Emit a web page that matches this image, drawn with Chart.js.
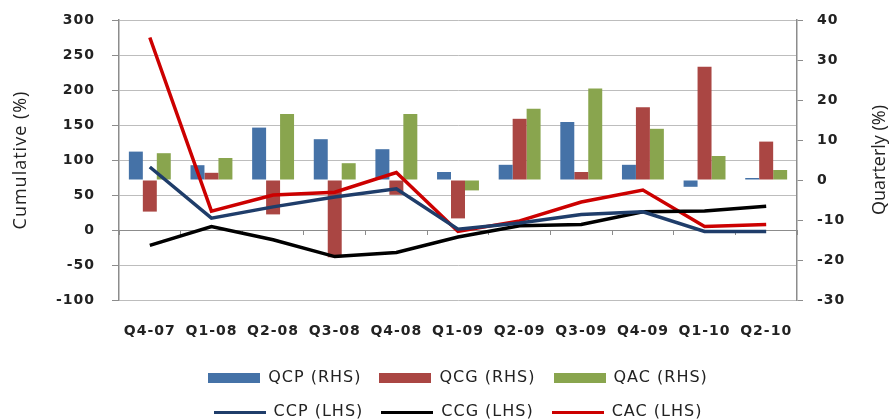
<!DOCTYPE html>
<html>
<head>
<meta charset="utf-8">
<script src="https://cdn.jsdelivr.net/npm/chart.js@4"></script>
<style>
html,body{margin:0;padding:0;background:#fff;overflow:hidden;}
#wrap{position:relative;width:895px;height:430px;}
</style>
</head>
<body>
<div id="wrap"><canvas id="c"></canvas></div>
<script>
const categories = ['Q4-07','Q1-08','Q2-08','Q3-08','Q4-08','Q1-09','Q2-09','Q3-09','Q4-09','Q1-10','Q2-10'];
// Quarterly (right axis)
const QCP = [7.1, 3.7, 13.1, 10.2, 7.7, 2.0, 3.8, 14.5, 3.8, -1.7, 0.5];
const QCG = [-7.9, 1.8, -8.6, -19.3, -3.7, -9.6, 15.3, 2.0, 18.2, 28.3, 9.6];
const QAC = [6.7, 5.5, 16.5, 4.2, 16.5, -2.6, 17.8, 22.9, 12.8, 6.0, 2.5];
// Cumulative (left axis)
const CCP = [90, 17, 33, 47, 59, 1, 10, 22, 26, -2, -2];
const CCG = [-22, 5, -14, -38, -32, -10, 6, 8, 26, 27, 34];
const CAC = [275, 27, 50, 54, 82, -2, 13, 40, 57, 5, 8];
const leftTicks = {min: -100, max: 300, step: 50};
const rightTicks = {min: -30, max: 40, step: 10};

const FONT = 'DejaVu Sans';

function swatch(color, w, h){
  const c = document.createElement('canvas');
  c.width = w; c.height = h;
  const g = c.getContext('2d');
  g.fillStyle = color;
  g.fillRect(0, 0, w, h);
  return c;
}

const helper = {
  id: 'helper',
  beforeLayout(chart){ chart.ctx.letterSpacing = '1px'; },
  beforeDraw(chart){ chart.ctx.letterSpacing = '1px'; },
  afterDraw(chart){
    const ctx = chart.ctx;
    ctx.save();
    ctx.letterSpacing = '0px';
    ctx.translate(880, 160);
    ctx.rotate(-Math.PI/2);
    ctx.font = '18px "Open Sans"';
    ctx.fillStyle = '#222';
    ctx.textAlign = 'center';
    ctx.textBaseline = 'middle';
    ctx.fillText('Quarterly (%)', 0, 0);
    ctx.restore();
  }
};

new Chart(document.getElementById('c'), {
  data: {
    labels: categories,
    datasets: [
      {type:'bar', label:'QCP (RHS)', data:QCP, backgroundColor:'#4572A7', yAxisID:'y1', order:2},
      {type:'bar', label:'QCG (RHS)', data:QCG, backgroundColor:'#AA4643', yAxisID:'y1', order:2},
      {type:'bar', label:'QAC (RHS)', data:QAC, backgroundColor:'#89A54E', yAxisID:'y1', order:2},
      {type:'line', label:'CCP (LHS)', data:CCP, borderColor:'#1F3D6A', backgroundColor:'#1F3D6A', borderWidth:3.5, pointRadius:0, yAxisID:'y', order:1, tension:0},
      {type:'line', label:'CCG (LHS)', data:CCG, borderColor:'#000000', backgroundColor:'#000000', borderWidth:3.5, pointRadius:0, yAxisID:'y', order:1, tension:0},
      {type:'line', label:'CAC (LHS)', data:CAC, borderColor:'#CC0000', backgroundColor:'#CC0000', borderWidth:3.5, pointRadius:0, yAxisID:'y', order:1, tension:0}
    ]
  },
  options: {
    responsive: true,
    maintainAspectRatio: false,
    animation: false,
    datasets: { bar: { categoryPercentage: 0.68, barPercentage: 1.0 } },
    layout: { padding: { top: 20, left: 0, right: 0, bottom: 0 } },
    plugins: {
      tooltip: { enabled: false },
      legend: {
        position: 'bottom',
        fullSize: false,
        labels: {
          font: { family: FONT, size: 16 },
          color: '#222',
          usePointStyle: true,
          pointStyleWidth: 52,
          boxHeight: 16,
          padding: 18,
          generateLabels(chart){
            return chart.data.datasets.map((ds, i) => {
              const isLine = ds.type === 'line';
              return {
                text: ds.label,
                fillStyle: ds.backgroundColor,
                strokeStyle: ds.backgroundColor,
                lineWidth: 0,
                pointStyle: isLine ? swatch(ds.borderColor, 52, 3) : swatch(ds.backgroundColor, 52, 10),
                fontColor: '#222',
                datasetIndex: i,
                hidden: false
              };
            });
          }
        }
      }
    },
    scales: {
      x: {
        type: 'category',
        position: 'bottom',
        grid: { display: false },
        border: { display: false },
        ticks: { font: { family: FONT, size: 14, weight: 'bold' }, color: '#222', padding: 15, maxRotation: 0, autoSkip: false },
        afterFit(s){ s.height = 52; }
      },
      x2: {
        type: 'category',
        position: { y: 0 },
        offset: true,
        grid: { drawOnChartArea: false, offset: true, tickLength: 4, color: '#8c8c8c', lineWidth: 1 },
        border: { display: true, color: '#8c8c8c', width: 1 },
        ticks: { display: false }
      },
      y: {
        position: 'left',
        min: leftTicks.min, max: leftTicks.max,
        ticks: { stepSize: leftTicks.step, font: { family: FONT, size: 14, weight: 'bold' }, color: '#222', padding: 17 },
        grid: { drawOnChartArea: true, tickLength: 7, color: '#bdbdbd', lineWidth: 1, tickColor: '#8c8c8c', tickWidth: 1 },
        border: { display: true, color: '#8c8c8c', width: 1.5 },
        title: { display: true, text: 'Cumulative (%)', font: { family: 'Open Sans', size: 18 }, color: '#222', padding: { top: 10, bottom: 0 } },
        afterFit(s){ s.width = 119; s.paddingTop = 0; s.paddingBottom = 0; }
      },
      y1: {
        position: 'right',
        min: rightTicks.min, max: rightTicks.max,
        ticks: { stepSize: rightTicks.step, font: { family: FONT, size: 14, weight: 'bold' }, color: '#222', padding: 14 },
        grid: { drawOnChartArea: false, tickLength: 6, color: '#8c8c8c' },
        border: { display: true, color: '#8c8c8c', width: 1.5 },
        afterFit(s){ s.width = 98; s.paddingTop = 0; s.paddingBottom = 0; }
      }
    }
  },
  plugins: [helper]
});
</script>
</body>
</html>
